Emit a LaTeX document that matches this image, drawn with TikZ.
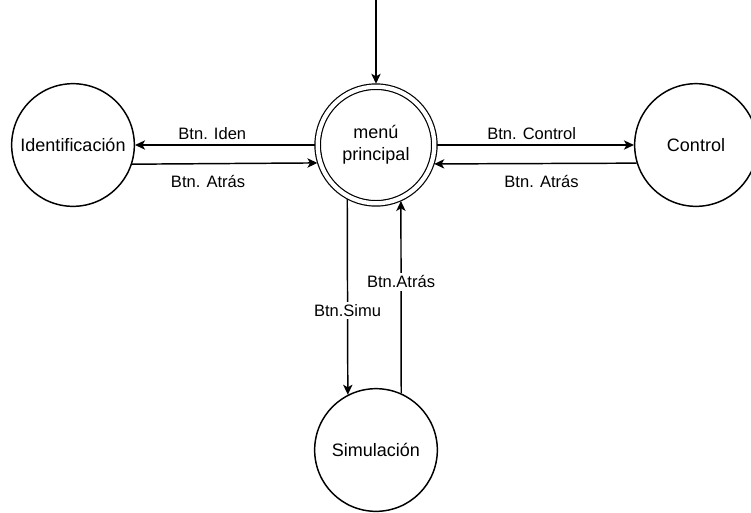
\documentclass[tikz,border=0pt]{standalone}
\usepackage{fontspec}
\setmainfont{Liberation Sans}
\usepackage{tikz}
\usetikzlibrary{arrows.meta}

\tikzset{
	state/.style={circle,draw,line width=1.1pt,minimum size=92pt,inner sep=0pt,
		align=center,font=\fontsize{13.5}{16.2}\selectfont},
	trans/.style={line width=1.1pt,-{Stealth[length=7.5pt,width=7pt,inset=2pt]}},
	lbl/.style={font=\fontsize{12.4}{14.9}\selectfont,inner sep=2pt}
}

\begin{document}
\begin{tikzpicture}[x=0.75pt,y=-0.75pt]
		\useasboundingbox (0,0) rectangle (751,512);
		\clip (0,0) rectangle (751,512);
%		\draw[help lines,step=50] (0,0) grid (751,512);
		\path (376,0) coordinate (start);

		\node[state,double,double distance=3.2pt,line width=0.9pt,minimum size=87.5pt,outer sep=2.2pt] (menu) at (376,145) {men\'u\\principal};
		\node[state] (iden) at (73,145) {Identificaci\'on};
		\node[state] (ctrl) at (696,145) {Control};
		\node[state] (simu) at (376,450) {Simulaci\'on};

		\draw[trans] (start) -- (menu.north);

		% menu <-> Identificacion
		\draw[trans] (menu.west) -- (iden.east)
			node[lbl,above=1.5pt,pos=0.57] (l_iden) {Btn. Iden};
		\draw[trans] (iden.342.5) -- (menu.197.5)
			node[lbl,below=6pt,pos=0.41] (l_iden_back) {Btn. Atr\'as};

		% menu <-> Control
		\draw[trans] (menu.east) -- (ctrl.west)
			node[lbl,above=1.5pt,pos=0.48] (l_ctrl) {Btn. Control};
		\draw[trans] (ctrl.197.5) -- (menu.342.5)
			node[lbl,below=6pt,pos=0.47] (l_ctrl_back) {Btn. Atr\'as};

		% menu <-> Simulacion
		\draw[trans] (menu.242.9) -- (simu.117.1)
			node[lbl,fill=white,pos=0.57] (l_simu) {Btn.Simu};
		\draw[trans] (simu.66) -- (menu.294)
			node[lbl,fill=white,pos=0.58] (l_simu_back) {Btn.Atr\'as};
	\end{tikzpicture}
\end{document}
